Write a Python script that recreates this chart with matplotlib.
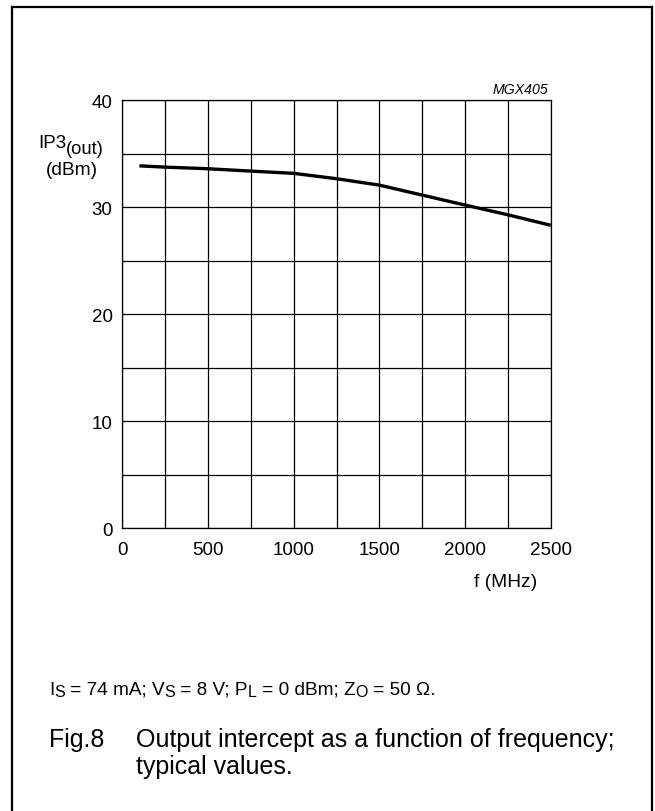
import matplotlib.pyplot as plt
from matplotlib.lines import Line2D
from matplotlib.font_manager import FontProperties

plt.rcParams["font.family"] = ["Liberation Sans", "DejaVu Sans"]

# curve
freq_mhz = [100, 250, 500, 750, 1000, 1250, 1500, 1750, 2000, 2250, 2500]
ip3_out = [33.85, 33.73, 33.58, 33.36, 33.15, 32.65, 32.05, 31.12, 30.19, 29.28, 28.3]

x_ticks = [0, 500, 1000, 1500, 2000, 2500]
y_ticks = [0, 10, 20, 30, 40]
x_grid = list(range(0, 2501, 250))
y_grid = list(range(0, 41, 5))

W, H = 655, 812
fig = plt.figure(figsize=(W / 100, H / 100), dpi=100)
renderer = fig.canvas.get_renderer()


def text_width(s, size):
    prop = FontProperties(size=size)
    w1 = renderer.get_text_width_height_descent("|" + s + "|", prop, ismath=False)[0]
    w0 = renderer.get_text_width_height_descent("||", prop, ismath=False)[0]
    return w1 - w0


def rich_line(x, y, parts, size, sub_size, sub_drop):
    # x, y in pixels from top-left; y is the baseline
    for s, sub in parts:
        fs = sub_size if sub else size
        yy = y + (sub_drop if sub else 0)
        fig.text(x / W, 1 - yy / H, s, fontsize=fs, ha="left", va="baseline")
        x += text_width(s, fs)


# frame around the figure (left, top, right)
fx0, fx1, fy1 = 11.5 / W, 651.5 / W, 1 - 8 / H
for xs, ys in [([fx0, fx0], [0, fy1]), ([fx0, fx1], [fy1, fy1]), ([fx1, fx1], [fy1, 0])]:
    fig.add_artist(Line2D(xs, ys, color="black", lw=1.6, transform=fig.transFigure))

ax = fig.add_axes([122.3 / W, 1 - 529.3 / H, 428.4 / W, 428.3 / H])
ax.set_xlim(0, 2500)
ax.set_ylim(0, 40)

for gx in x_grid:
    ax.axvline(gx, color="black", lw=0.9, zorder=1)
for gy in y_grid:
    ax.axhline(gy, color="black", lw=0.9, zorder=1)

ax.plot(freq_mhz, ip3_out, color="black", lw=2.4, zorder=3, solid_capstyle="butt")

for s in ax.spines.values():
    s.set_linewidth(0.9)

ax.set_xticks(x_ticks)
ax.set_yticks(y_ticks)
ax.tick_params(length=0, labelsize=13.5)
ax.tick_params(axis="x", pad=9)
ax.tick_params(axis="y", pad=7)

rich_line(38, 148, [("IP3", False), ("(out)", True)], 13.5, 13.2, 6)
fig.text(71.5 / W, 1 - 175 / H, "(dBm)", fontsize=13.8, ha="center", va="baseline")
fig.text(506 / W, 1 - 587 / H, "f (MHz)", fontsize=13.8, ha="center", va="baseline")
fig.text(548 / W, 1 - 94 / H, "MGX405", fontsize=10.2, style="italic", ha="right", va="baseline")

rich_line(49, 695,
          [("I", False), ("S", True), (" = 74 mA; V", False), ("S", True),
           (" = 8 V; P", False), ("L", True), (" = 0 dBm; Z", False), ("O", True),
           (" = 50 Ω.", False)],
          13.7, 11.5, 2.5)

fig.text(49 / W, 1 - 747 / H, "Fig.8", fontsize=18, ha="left", va="baseline")
fig.text(136.5 / W, 1 - 747 / H, "Output intercept as a function of frequency;", fontsize=18, ha="left", va="baseline")
fig.text(136.5 / W, 1 - 774 / H, "typical values.", fontsize=18, ha="left", va="baseline")

fig.savefig("out.png", dpi=100)
